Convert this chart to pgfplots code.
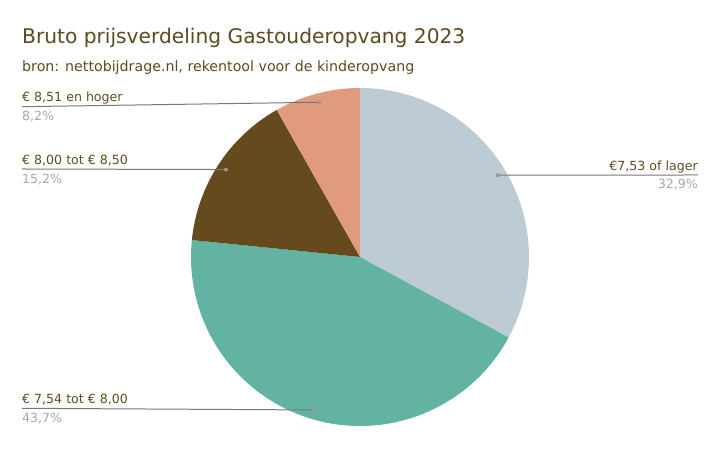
\documentclass[border=0pt]{standalone}
\usepackage{pgfplots}
\pgfplotsset{compat=1.18}
\usepackage{pgfplotstable}
\usepackage{fontspec}
\setmainfont{DejaVu Sans}

\definecolor{sliceA}{HTML}{BDCBD4}
\definecolor{sliceB}{HTML}{63B3A2}
\definecolor{sliceC}{HTML}{654A1E}
\definecolor{sliceD}{HTML}{E09B7E}
\definecolor{txtbrown}{HTML}{5E4A1E}
\definecolor{pctgray}{HTML}{A8A8A8}
\definecolor{leader}{HTML}{787878}
\definecolor{dotgray}{HTML}{9A9A9A}

% shares in percent, clockwise from 12 o'clock
\pgfplotstableread{
share
32.9
43.7
15.2
8.2
}\piedata

\pgfplotstablegetelem{0}{share}\of\piedata \let\shA\pgfplotsretval
\pgfplotstablegetelem{1}{share}\of\piedata \let\shB\pgfplotsretval
\pgfplotstablegetelem{2}{share}\of\piedata \let\shC\pgfplotsretval
\pgfplotstablegetelem{3}{share}\of\piedata \let\shD\pgfplotsretval

% centre and radius (1 axis unit = 1pt)
\def\cx{360}\def\cy{191}\def\R{169}

\pgfmathsetmacro\cumA{0}
\pgfmathsetmacro\cumB{\shA}
\pgfmathsetmacro\cumC{\shA+\shB}
\pgfmathsetmacro\cumD{\shA+\shB+\shC}

% label dots at mid angle, 0.947 R
\newcommand\dotpos[3]{%
  \pgfmathsetmacro#2{\cx+0.947*\R*cos(90-3.6*(#1))}%
  \pgfmathsetmacro#3{\cy+0.947*\R*sin(90-3.6*(#1))}}
\dotpos{\cumA+\shA/2}\dAx\dAy
\dotpos{\cumB+\shB/2}\dBx\dBy
\dotpos{\cumC+\shC/2}\dCx\dCy
\dotpos{\cumD+\shD/2}\dDx\dDy

\newcommand\slice[3]{%
  \fill[#3] (axis cs:\cx,\cy) -- ++({90-3.6*(#1)}:\R pt)
    arc[start angle={90-3.6*(#1)}, delta angle={-3.6*(#2)}, radius=\R pt] -- cycle;}

\begin{document}
\begin{tikzpicture}
\begin{axis}[
    scale only axis,
    width=721pt, height=448pt,
    xmin=0, xmax=721, ymin=0, ymax=448,
    hide axis,
    clip=false,
]
\path (axis cs:0,0) (axis cs:721,448);

\slice{\cumA}{\shA}{sliceA}
\slice{\cumB}{\shB}{sliceB}
\slice{\cumC}{\shC}{sliceC}
\slice{\cumD}{\shD}{sliceD}

\draw[leader, line width=1pt] (axis cs:\dAx,\dAy) -- (axis cs:698,273);
\draw[leader, line width=1pt] (axis cs:22,39.7) -- (axis cs:\dBx,\dBy);
\draw[leader, line width=1pt] (axis cs:22,279) -- (axis cs:\dCx,\dCy);
\draw[leader, line width=1pt] (axis cs:22,341.3) -- (axis cs:\dDx,\dDy);
\fill[dotgray] (axis cs:\dAx,\dAy) circle[radius=2pt];
\fill[dotgray] (axis cs:\dBx,\dBy) circle[radius=2pt];
\fill[dotgray] (axis cs:\dCx,\dCy) circle[radius=2pt];
\fill[dotgray] (axis cs:\dDx,\dDy) circle[radius=2pt];

\node[anchor=base west, inner sep=0, text=txtbrown, font=\fontsize{20.2}{24}\selectfont]
  at (axis cs:22,404.3) {Bruto prijsverdeling Gastouderopvang 2023};
\node[anchor=base west, inner sep=0, text=txtbrown, font=\fontsize{14.2}{17}\selectfont]
  at (axis cs:22,376) {bron: nettobijdrage.nl, rekentool voor de kinderopvang};

\tikzset{lbl/.style={inner sep=0, text=txtbrown, font=\fontsize{12.6}{15}\selectfont},
         pct/.style={inner sep=0, text=pctgray, font=\fontsize{12.6}{15}\selectfont}}
\node[lbl, anchor=base west] at (axis cs:22,346.3) {€ 8,51 en hoger};
\node[pct, anchor=base west] at (axis cs:22,327.3) {8,2\%};
\node[lbl, anchor=base west] at (axis cs:22,283) {€ 8,00 tot € 8,50};
\node[pct, anchor=base west] at (axis cs:22,264.7) {15,2\%};
\node[lbl, anchor=base west] at (axis cs:22,44) {€ 7,54 tot € 8,00};
\node[pct, anchor=base west] at (axis cs:22,25.3) {43,7\%};
\node[lbl, anchor=base east] at (axis cs:698,277.3) {€7,53 of lager};
\node[pct, anchor=base east] at (axis cs:698,259) {32,9\%};
\end{axis}
\end{tikzpicture}
\end{document}
